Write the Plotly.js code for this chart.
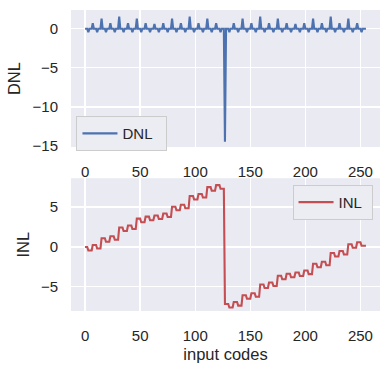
<!DOCTYPE html>
<html>
<head>
<meta charset="utf-8">
<script src="https://cdn.plot.ly/plotly-3.0.1.min.js"></script>
<style>html,body{margin:0;padding:0;background:#fff;}#chart{width:389px;height:375px;}</style>
</head>
<body>
<div id="chart"></div>
<script>
// input codes 0..255 (index of each code)
const codes = [];
for (let i = 0; i < 256; i++) codes.push(i);

// DNL per code (LSB), rows of 8 codes
const dnl = [
  0,0,0,-0.45,0,0,0,0.7,
  0,0,0,-0.45,0,0,0,1.3,
  0,0,0,-0.45,0,0,0,0.7,
  0,0,0,-0.45,0,0,0,1.55,
  0,0,0,-0.45,0,0,0,0.7,
  0,0,0,-0.45,0,0,0,1.3,
  0,0,0,-0.45,0,0,0,0.7,
  0,0,0,-0.45,0,0,0,0.6,
  0,0,0,-0.45,0,0,0,0.7,
  0,0,0,-0.45,0,0,0,1.3,
  0,0,0,-0.45,0,0,0,0.7,
  0,0,0,-0.45,0,0,0,1.55,
  0,0,0,-0.45,0,0,0,0.7,
  0,0,0,-0.45,0,0,0,1.3,
  0,0,0,-0.45,0,0,0,0.7,
  0,0,0,-0.45,0,0,0,-14.45,
  0,0,0,-0.45,0,0,0,0.7,
  0,0,0,-0.45,0,0,0,1.3,
  0,0,0,-0.45,0,0,0,0.7,
  0,0,0,-0.45,0,0,0,1.55,
  0,0,0,-0.45,0,0,0,0.7,
  0,0,0,-0.45,0,0,0,1.3,
  0,0,0,-0.45,0,0,0,0.7,
  0,0,0,-0.45,0,0,0,0.6,
  0,0,0,-0.45,0,0,0,0.7,
  0,0,0,-0.45,0,0,0,1.3,
  0,0,0,-0.45,0,0,0,0.7,
  0,0,0,-0.45,0,0,0,1.55,
  0,0,0,-0.45,0,0,0,0.7,
  0,0,0,-0.45,0,0,0,1.3,
  0,0,0,-0.45,0,0,0,0.7,
  0,0,0,-0.45,0,0,0,0
];

// INL per code (LSB), rows of 8 codes
const inl = [
  0,0,0,-0.45,-0.45,-0.45,-0.45,0.25,
  0.25,0.25,0.25,-0.2,-0.2,-0.2,-0.2,1.1,
  1.1,1.1,1.1,0.65,0.65,0.65,0.65,1.35,
  1.35,1.35,1.35,0.9,0.9,0.9,0.9,2.45,
  2.45,2.45,2.45,2,2,2,2,2.7,
  2.7,2.7,2.7,2.25,2.25,2.25,2.25,3.55,
  3.55,3.55,3.55,3.1,3.1,3.1,3.1,3.8,
  3.8,3.8,3.8,3.35,3.35,3.35,3.35,3.95,
  3.95,3.95,3.95,3.5,3.5,3.5,3.5,4.2,
  4.2,4.2,4.2,3.75,3.75,3.75,3.75,5.05,
  5.05,5.05,5.05,4.6,4.6,4.6,4.6,5.3,
  5.3,5.3,5.3,4.85,4.85,4.85,4.85,6.4,
  6.4,6.4,6.4,5.95,5.95,5.95,5.95,6.65,
  6.65,6.65,6.65,6.2,6.2,6.2,6.2,7.5,
  7.5,7.5,7.5,7.05,7.05,7.05,7.05,7.75,
  7.75,7.75,7.75,7.3,7.3,7.3,7.3,-7.15,
  -7.15,-7.15,-7.15,-7.6,-7.6,-7.6,-7.6,-6.9,
  -6.9,-6.9,-6.9,-7.35,-7.35,-7.35,-7.35,-6.05,
  -6.05,-6.05,-6.05,-6.5,-6.5,-6.5,-6.5,-5.8,
  -5.8,-5.8,-5.8,-6.25,-6.25,-6.25,-6.25,-4.7,
  -4.7,-4.7,-4.7,-5.15,-5.15,-5.15,-5.15,-4.45,
  -4.45,-4.45,-4.45,-4.9,-4.9,-4.9,-4.9,-3.6,
  -3.6,-3.6,-3.6,-4.05,-4.05,-4.05,-4.05,-3.35,
  -3.35,-3.35,-3.35,-3.8,-3.8,-3.8,-3.8,-3.2,
  -3.2,-3.2,-3.2,-3.65,-3.65,-3.65,-3.65,-2.95,
  -2.95,-2.95,-2.95,-3.4,-3.4,-3.4,-3.4,-2.1,
  -2.1,-2.1,-2.1,-2.55,-2.55,-2.55,-2.55,-1.85,
  -1.85,-1.85,-1.85,-2.3,-2.3,-2.3,-2.3,-0.75,
  -0.75,-0.75,-0.75,-1.2,-1.2,-1.2,-1.2,-0.5,
  -0.5,-0.5,-0.5,-0.95,-0.95,-0.95,-0.95,0.35,
  0.35,0.35,0.35,-0.1,-0.1,-0.1,-0.1,0.6,
  0.6,0.6,0.6,0.15,0.15,0.15,0.15,0.15
];

const xTicks = [0, 50, 100, 150, 200, 250];
const dnlTicks = [0, -5, -10, -15];
const inlTicks = [-5, 0, 5];
const dnlTickText = ['0', '\u22125', '\u221210', '\u221215'];
const inlTickText = ['\u22125', '0', '5'];

const FONT = 'Liberation Sans, Arial, DejaVu Sans, sans-serif';
const TXT = '#262626';
const BG = '#EAEAF2';

const traces = [
  {x: codes, y: dnl, type: 'scatter', mode: 'lines', name: 'DNL\u00a0\u00a0',
   line: {color: '#4C72B0', width: 2.1}, xaxis: 'x', yaxis: 'y', legend: 'legend'},
  {x: codes, y: inl, type: 'scatter', mode: 'lines', name: 'INL\u00a0',
   line: {color: '#C44E52', width: 2.1}, xaxis: 'x2', yaxis: 'y2', legend: 'legend2'}
];

const xcommon = {
  range: [-12.75, 267.75], tickvals: xTicks, ticktext: xTicks.map(String),
  showgrid: true, gridcolor: '#ffffff', gridwidth: 1.3, zeroline: false, showline: false,
  ticks: '', ticklabelstandoff: 14, tickfont: {family: FONT, size: 15, color: TXT}
};
const ycommon = {
  showgrid: true, gridcolor: '#ffffff', gridwidth: 1.3, zeroline: false, showline: false,
  ticks: '', ticklabelstandoff: 12, tickfont: {family: FONT, size: 15, color: TXT}
};

const legendCommon = {
  bgcolor: 'rgba(236,236,243,1)', bordercolor: '#cccccc', borderwidth: 1,
  itemwidth: 35, font: {family: FONT, size: 15, color: TXT}
};

const layout = {
  width: 389, height: 375,
  margin: {l: 70.5, r: 8.5, t: 9.5, b: 63.5},
  paper_bgcolor: '#ffffff', plot_bgcolor: BG,
  font: {family: FONT, color: TXT},
  xaxis: Object.assign({}, xcommon, {domain: [0, 1], anchor: 'y'}),
  yaxis: Object.assign({}, ycommon, {domain: [0.5447, 1], anchor: 'x', range: [-15.12, 2.39],
    tickvals: dnlTicks, ticktext: dnlTickText,
    title: {text: 'DNL', font: {family: FONT, size: 16.5, color: TXT}, standoff: 7}}),
  xaxis2: Object.assign({}, xcommon, {domain: [0, 1], anchor: 'y2',
    title: {text: 'input codes', font: {family: FONT, size: 16.5, color: TXT}, standoff: 5}}),
  yaxis2: Object.assign({}, ycommon, {domain: [0, 0.4411], anchor: 'x2', range: [-8.03, 8.62],
    tickvals: inlTicks, ticktext: inlTickText,
    title: {text: 'INL', font: {family: FONT, size: 16.5, color: TXT}, standoff: 7}}),
  showlegend: true,
  legend: Object.assign({}, legendCommon, {x: 0.0177, y: 0.6474, xanchor: 'left', yanchor: 'top'}),
  legend2: Object.assign({}, legendCommon, {x: 0.9758, y: 0.4189, xanchor: 'right', yanchor: 'top'})
};

Plotly.newPlot('chart', traces, layout, {displayModeBar: false, staticPlot: true});
</script>
</body>
</html>
